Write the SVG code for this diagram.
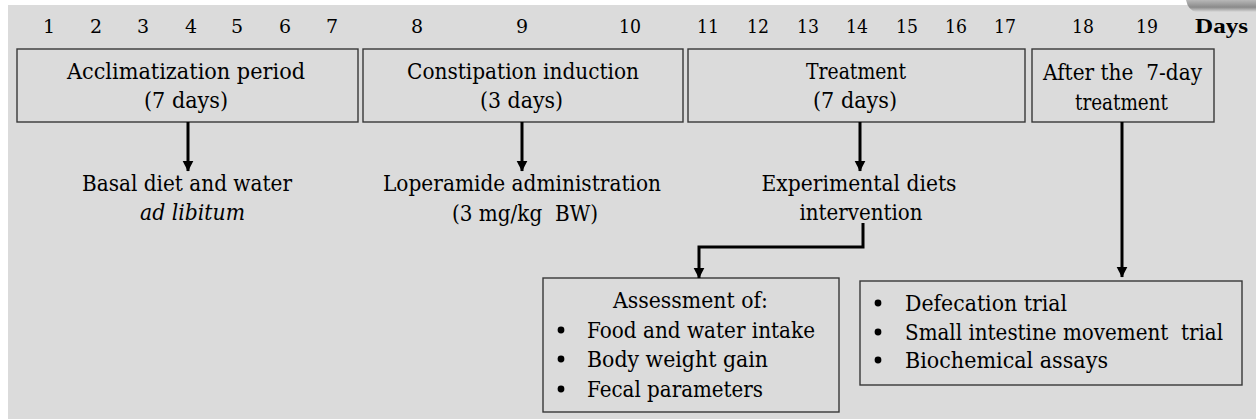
<svg xmlns="http://www.w3.org/2000/svg" width="1256" height="419" viewBox="0 0 1256 419">
<defs>
<style>
text{font-family:'DejaVu Serif','Liberation Serif','Times New Roman',serif;fill:#000;font-size:22px;}
.dnum{font-size:19px;text-anchor:middle;}
.ctr{text-anchor:middle;}
.bold{font-family:'Liberation Serif','Times New Roman',serif;font-weight:bold;font-size:22px;}
.box{fill:none;stroke:#383838;stroke-width:1.4;}
.conn{fill:none;stroke:#000;stroke-width:3;}
.bul{fill:#000;}
</style>
<marker id="ah" markerWidth="4" markerHeight="4" refX="3.4" refY="2" orient="auto" markerUnits="strokeWidth" viewBox="0 0 4 4">
<path d="M0,0.2 L3.6,2 L0,3.8 Z" fill="#000"/>
</marker>
<linearGradient id="sh" x1="0" y1="0" x2="0" y2="1">
<stop offset="0" stop-color="#b8b8b8"/>
<stop offset="0.6" stop-color="#8a8a8a"/>
<stop offset="1" stop-color="#dadada"/>
</linearGradient>
</defs>
<rect x="0" y="0" width="1256" height="419" fill="#fff"/>
<rect x="8" y="5" width="1248" height="414" fill="#dbdbdb"/>
<path d="M1186,0 H1256 V12 H1196 Q1188,10 1186,0 Z" fill="url(#sh)"/>

<g id="days">
<text class="dnum" x="49" y="33">1</text>
<text class="dnum" x="96" y="33">2</text>
<text class="dnum" x="143" y="33">3</text>
<text class="dnum" x="191" y="33">4</text>
<text class="dnum" x="237" y="33">5</text>
<text class="dnum" x="285" y="33">6</text>
<text class="dnum" x="332" y="33">7</text>
<text class="dnum" x="417" y="33">8</text>
<text class="dnum" x="522" y="33">9</text>
<text class="dnum" x="630" y="33" textLength="22" lengthAdjust="spacingAndGlyphs">10</text>
<text class="dnum" x="708" y="33" textLength="22" lengthAdjust="spacingAndGlyphs">11</text>
<text class="dnum" x="758" y="33" textLength="22" lengthAdjust="spacingAndGlyphs">12</text>
<text class="dnum" x="808" y="33" textLength="22" lengthAdjust="spacingAndGlyphs">13</text>
<text class="dnum" x="857" y="33" textLength="22" lengthAdjust="spacingAndGlyphs">14</text>
<text class="dnum" x="907" y="33" textLength="22" lengthAdjust="spacingAndGlyphs">15</text>
<text class="dnum" x="956" y="33" textLength="22" lengthAdjust="spacingAndGlyphs">16</text>
<text class="dnum" x="1005" y="33" textLength="22" lengthAdjust="spacingAndGlyphs">17</text>
<text class="dnum" x="1083" y="33" textLength="22" lengthAdjust="spacingAndGlyphs">18</text>
<text class="dnum" x="1147" y="33" textLength="22" lengthAdjust="spacingAndGlyphs">19</text>
<text class="bold" x="1195" y="33" textLength="53" lengthAdjust="spacingAndGlyphs">Days</text>
</g>

<g id="acclimatization">
<rect class="box" x="17" y="49" width="341" height="73"/>
<text class="ctr" x="186" y="79" textLength="238" lengthAdjust="spacingAndGlyphs">Acclimatization period</text>
<text class="ctr" x="186" y="108" textLength="84" lengthAdjust="spacingAndGlyphs">(7 days)</text>
</g>
<g id="constipation">
<rect class="box" x="363" y="49" width="320" height="73"/>
<text class="ctr" x="523" y="79" textLength="232" lengthAdjust="spacingAndGlyphs">Constipation induction</text>
<text class="ctr" x="521.5" y="108" textLength="83" lengthAdjust="spacingAndGlyphs">(3 days)</text>
</g>
<g id="treatment">
<rect class="box" x="688" y="49" width="337" height="73"/>
<text class="ctr" x="856" y="79" textLength="100" lengthAdjust="spacingAndGlyphs">Treatment</text>
<text class="ctr" x="855" y="108" textLength="84" lengthAdjust="spacingAndGlyphs">(7 days)</text>
</g>
<g id="after">
<rect class="box" x="1032" y="49" width="182" height="73"/>
<text class="ctr" x="1122.5" y="80" textLength="159" lengthAdjust="spacingAndGlyphs" xml:space="preserve">After the  7-day</text>
<text class="ctr" x="1121.5" y="110" textLength="93" lengthAdjust="spacingAndGlyphs">treatment</text>
</g>

<g id="basal">
<text class="ctr" x="187" y="191" textLength="210" lengthAdjust="spacingAndGlyphs">Basal diet and water</text>
<text class="ctr" x="192.5" y="220" font-style="italic" textLength="105" lengthAdjust="spacingAndGlyphs">ad libitum</text>
</g>
<g id="loperamide">
<text class="ctr" x="522" y="191" textLength="278" lengthAdjust="spacingAndGlyphs">Loperamide administration</text>
<text class="ctr" x="525" y="221" xml:space="preserve" textLength="146" lengthAdjust="spacingAndGlyphs">(3 mg/kg  BW)</text>
</g>
<g id="experimental">
<text class="ctr" x="859" y="191" textLength="195" lengthAdjust="spacingAndGlyphs">Experimental diets</text>
<text class="ctr" x="861" y="220" textLength="123" lengthAdjust="spacingAndGlyphs">intervention</text>
</g>

<g id="assessment">
<rect class="box" x="543" y="278" width="296" height="134"/>
<text class="ctr" x="690.5" y="308" textLength="155" lengthAdjust="spacingAndGlyphs">Assessment of:</text>
<circle class="bul" cx="561" cy="330" r="3.4"/>
<circle class="bul" cx="561" cy="359" r="3.4"/>
<circle class="bul" cx="561" cy="389" r="3.4"/>
<text x="587" y="338" textLength="228" lengthAdjust="spacingAndGlyphs">Food and water intake</text>
<text x="587" y="367" textLength="181" lengthAdjust="spacingAndGlyphs">Body weight gain</text>
<text x="587" y="397" textLength="176" lengthAdjust="spacingAndGlyphs">Fecal parameters</text>
</g>
<g id="trials">
<rect class="box" x="860" y="281" width="382" height="104"/>
<circle class="bul" cx="878" cy="303" r="3.4"/>
<circle class="bul" cx="878" cy="332" r="3.4"/>
<circle class="bul" cx="878" cy="360" r="3.4"/>
<text x="905" y="311" textLength="162" lengthAdjust="spacingAndGlyphs">Defecation trial</text>
<text x="905" y="340" xml:space="preserve" textLength="318" lengthAdjust="spacingAndGlyphs">Small intestine movement  trial</text>
<text x="905" y="368" textLength="203" lengthAdjust="spacingAndGlyphs">Biochemical assays</text>
</g>

<g id="connectors">
<line class="conn" x1="188" y1="122" x2="188" y2="171" marker-end="url(#ah)"/>
<line class="conn" x1="522" y1="122" x2="522" y2="171" marker-end="url(#ah)"/>
<line class="conn" x1="860" y1="122" x2="860" y2="171" marker-end="url(#ah)"/>
<line class="conn" x1="1122" y1="122" x2="1122" y2="277" marker-end="url(#ah)"/>
<polyline class="conn" points="863,223 863,247 699,247 699,278" marker-end="url(#ah)"/>
</g>
</svg>
